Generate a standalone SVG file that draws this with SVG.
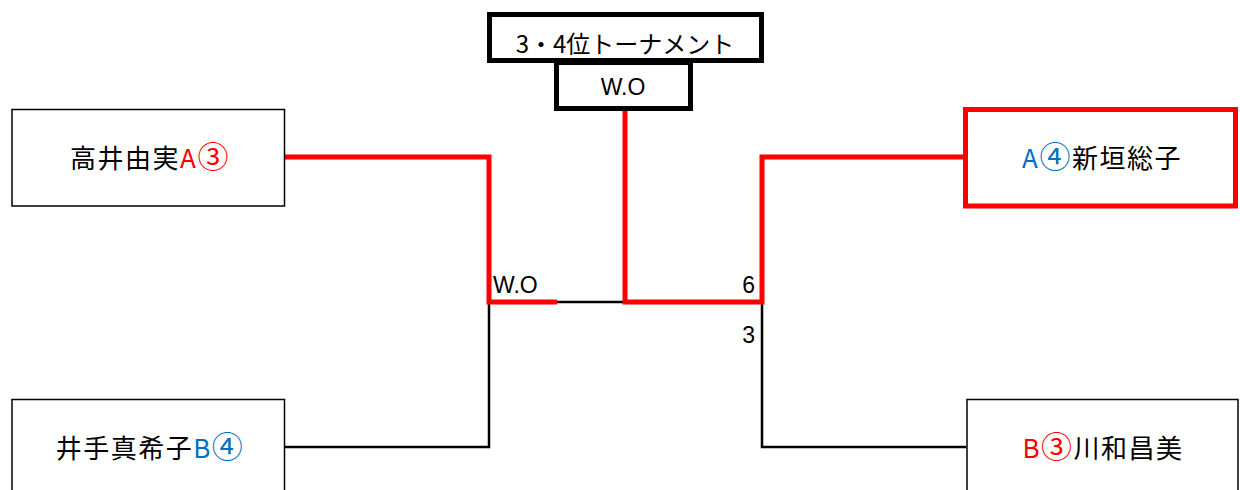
<svg xmlns="http://www.w3.org/2000/svg" width="1240" height="490" viewBox="0 0 1240 490">
<style>
.t{font-family:"Liberation Sans","Noto Sans CJK JP",sans-serif;fill:#000}
.n{font-family:"Noto Sans CJK JP","Liberation Sans",sans-serif;font-size:26px;letter-spacing:1.5px;text-anchor:middle;fill:#000}
.c{font-size:31px}
.r{fill:#ff0000}.b{fill:#0070c0}
.box{fill:#fff;stroke:#000;stroke-width:1.5}
.red{fill:none;stroke:#ff0000;stroke-width:5}
.blk{fill:none;stroke:#000;stroke-width:2.5}
</style>
<rect width="1240" height="490" fill="#fff"/>
<g id="connectors">
<polyline class="blk" points="285,447 489,447 489,302 625,302"/>
<polyline class="blk" points="966,447 762,447 762,302"/>
<polyline class="red" points="285,157 489,157 489,302 557,302"/>
<polyline class="red" points="625,110 625,302 762,302 762,157 966,157"/>
</g>
<g id="title">
<rect x="489.5" y="14.5" width="272" height="46" fill="#fff" stroke="#000" stroke-width="5"/>
<text class="n" x="625" y="53" style="font-size:24px;letter-spacing:0">3・4位トーナメント</text>
</g>
<g id="final">
<rect x="556.5" y="62.5" width="134" height="46" fill="#fff" stroke="#000" stroke-width="5"/>
<text class="t" x="623" y="95" font-size="23" text-anchor="middle">W.O</text>
</g>
<g id="p1">
<rect class="box" x="12" y="109.5" width="272.5" height="96.5"/>
<text class="n" x="150" y="168">高井由実<tspan class="r">A<tspan class="c">③</tspan></tspan></text>
</g>
<g id="p2">
<rect class="box" x="12" y="399.5" width="272.5" height="100"/>
<text class="n" x="150" y="458">井手真希子<tspan class="b">B<tspan class="c">④</tspan></tspan></text>
</g>
<g id="p3">
<rect x="965.5" y="109.5" width="270" height="96.5" fill="#fff" stroke="#ff0000" stroke-width="5"/>
<text class="n" x="1102" y="168"><tspan class="b">A<tspan class="c">④</tspan></tspan>新垣総子</text>
</g>
<g id="p4">
<rect class="box" x="967" y="399.5" width="271" height="100"/>
<text class="n" x="1103" y="458"><tspan class="r">B<tspan class="c">③</tspan></tspan>川和昌美</text>
</g>
<g id="scores">
<text class="t" x="493" y="293" font-size="23">W.O</text>
<text class="t" x="755" y="293" font-size="23" text-anchor="end">6</text>
<text class="t" x="755" y="343" font-size="23" text-anchor="end">3</text>
</g>
</svg>
